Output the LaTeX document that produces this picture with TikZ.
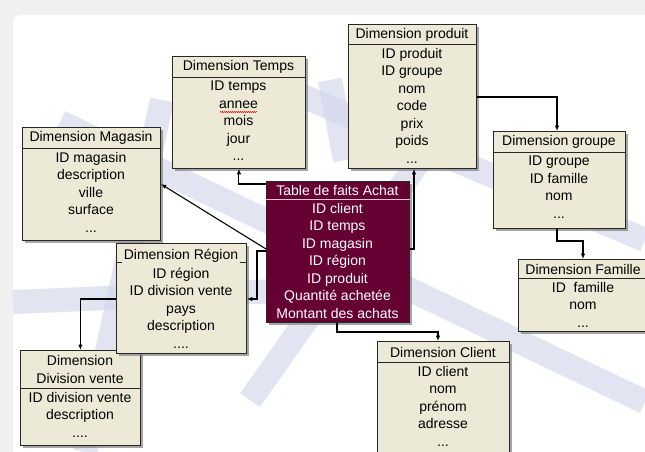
\documentclass[tikz,border=0pt]{standalone}
\usepackage{fontspec}
\setmainfont{Liberation Sans}
\usetikzlibrary{shadows,arrows.meta,decorations.pathmorphing}
\definecolor{boxfill}{HTML}{ECEAD6}
\definecolor{factfill}{HTML}{660033}
\definecolor{wm}{HTML}{D3D6EC}
\newcommand\mybox[8]{%
  \node[box, minimum width=#4pt, minimum height=#5pt] (#1) at (#2,#3) {};
  \draw[sepline] (#1.west |- 0,#6) -- (#1.east |- 0,#6);
  \node[txt] (#1H) at ({#2+#4/2},{(#3+#6)/2+0.5}) {#7};
  \node[txt, anchor=north] (#1R) at ({#2+#4/2},#6+4) {#8};
}
\begin{document}
\begin{tikzpicture}[x=1pt,y=-1pt,
  box/.style={draw=black!85, fill=boxfill, line width=0.8pt, inner sep=0pt, anchor=north west,
    drop shadow={shadow xshift=2.5pt, shadow yshift=-2.5pt, fill=black!50, opacity=0.7}},
  sepline/.style={draw=black!85, line width=0.8pt},
  txt/.style={inner sep=0pt, align=center, font=\fontsize{14}{17.5}\selectfont},
  conn/.style={line width=1.1pt, -{Latex[length=5.5pt,width=4.5pt]}},
  wmstroke/.style={line width=24pt, draw=wm, opacity=0.65}]
\useasboundingbox (0,0) rectangle (645,452);
% background
\fill[gray!12] (0,0) rectangle (645,452);
\fill[white, rounded corners=8pt] (13,15) rectangle (660,470);
% watermark
\draw[wmstroke] (300,95) -- (645,240);
\draw[wmstroke] (162,100) -- (85,452);
\draw[wmstroke] (13,302) -- (300,290);
\draw[wmstroke] (60,122) -- (645,402);
\draw[wmstroke] (420,160) -- (250,400);
\draw[wmstroke] (330,80) -- (345,160);
% boxes
\mybox{temps}{172}{56}{133}{112}{77}{Dimension Temps}{ID temps\\annee\\mois\\jour\\...}
\draw[red, line width=0.5pt, decorate, decoration={zigzag, amplitude=0.6pt, segment length=2pt}] (220,112) -- (257,112);
\mybox{prod}{348}{24}{128}{144}{44}{Dimension produit}{ID produit\\ID groupe\\nom\\code\\prix\\poids\\...}
\mybox{grp}{493}{131}{132}{97}{152}{Dimension groupe}{ID groupe\\ID famille\\nom\\...}
\mybox{fam}{518}{259}{130}{72}{278}{Dimension Famille}{ID\ \ famille\\nom\\...}
\mybox{mag}{22}{127}{138}{113}{148}{Dimension Magasin}{ID magasin\\description\\ville\\surface\\...}
\mybox{div}{20}{350}{120}{95}{388}{Dimension\\Division vente}{ID division vente\\description\\....}
\mybox{cli}{377}{341}{132}{120}{362}{Dimension Client}{ID client\\nom\\prénom\\adresse\\...}
% region box (separator hidden behind header)
\node[box, minimum width=130pt, minimum height=110pt] (reg) at (116,243) {};
\draw[sepline] (reg.west |- 0,262) -- (reg.east |- 0,262);
\node[txt, fill=boxfill, inner sep=1.5pt] (regH) at (181,256) {Dimension Région};
\node[txt, anchor=north] (regR) at (181,267.5) {ID région\\ID division vente\\pays\\description\\....};
% fact table
\node[box, fill=factfill, minimum width=143pt, minimum height=141pt] (fact) at (266,181) {};
\draw[draw=white!80!factfill, line width=0.8pt] (fact.west |- 0,199) -- (fact.east |- 0,199);
\node[txt, text=white] (factH) at (337.5,190) {Table de faits Achat};
\node[txt, text=white, anchor=north] (factR) at (337.5,203) {ID client\\ID temps\\ID magasin\\ID région\\ID produit\\Quantité achetée\\Montant des achats};
% connectors
\draw[conn] (fact.west |- 0,184) -| (temps.south);
\draw[conn] (fact.west |- 0,249) -- (mag.east |- 0,184);
\draw[conn] (fact.west |- 0,251) -- (257,251) |- (reg.east |- 0,299);
\draw[conn] (reg.west |- 0,299) -| (div.north);
\draw[conn] (fact.south -| 337,0) -- (337,332) -| (cli.north -| 438,0);
\draw[conn] (fact.east |- 0,249) -| (prod.south -| 414,0);
\draw[conn] (prod.east |- 0,97) -| (grp.north -| 557,0);
\draw[conn] (grp.south -| 557,0) -- (557,241) -| (fam.north -| 583,0);
\end{tikzpicture}
\end{document}
